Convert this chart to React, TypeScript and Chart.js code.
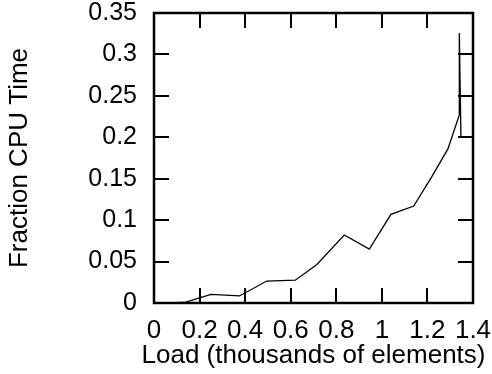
import React, { useEffect, useRef } from "react";
import { Chart, registerables } from "chart.js";

Chart.register(...registerables);

const loadX: number[] = [0.08, 0.14, 0.25, 0.375, 0.495, 0.62, 0.715, 0.835, 0.945, 1.04, 1.14, 1.218, 1.29, 1.34, 1.34, 1.347];
const cpuFraction: number[] = [0, 0.001, 0.0105, 0.0085, 0.0265, 0.0275, 0.0465, 0.082, 0.065, 0.107, 0.117, 0.152, 0.186, 0.227, 0.326, 0.2];
const xTicks: number[] = [0, 0.2, 0.4, 0.6, 0.8, 1, 1.2, 1.4];
const yTicks: number[] = [0, 0.05, 0.1, 0.15, 0.2, 0.25, 0.3, 0.35];
const xTitle = "Load (thousands of elements)";
const yTitle = "Fraction CPU Time";

const FONT = "'Liberation Sans', Arial, sans-serif";

const framePlugin = {
  id: "frameTicks",
  afterDraw(chart: any) {
    const { ctx, chartArea } = chart;
    const { left, right, top, bottom } = chartArea;
    const xs = chart.scales.x;
    const ys = chart.scales.y;
    const len = 15;
    ctx.save();
    ctx.strokeStyle = "#000";
    ctx.lineWidth = 2;
    ctx.beginPath();
    xTicks.forEach((v) => {
      const px = Math.round(xs.getPixelForValue(v));
      if (px <= left + 1 || px >= right - 1) return;
      ctx.moveTo(px, bottom);
      ctx.lineTo(px, bottom - len);
      ctx.moveTo(px, top);
      ctx.lineTo(px, top + len);
    });
    yTicks.forEach((v) => {
      const py = Math.round(ys.getPixelForValue(v));
      if (py <= top + 1 || py >= bottom - 1) return;
      ctx.moveTo(left, py);
      ctx.lineTo(left + len, py);
      ctx.moveTo(right, py);
      ctx.lineTo(right - len, py);
    });
    ctx.stroke();
    ctx.lineWidth = 2.5;
    ctx.strokeRect(left, top, right - left, bottom - top);
    // x-axis title (drawn here so it is not squeezed to the chart width)
    ctx.fillStyle = "#000";
    ctx.font = `26px ${FONT}`;
    ctx.textAlign = "center";
    ctx.textBaseline = "middle";
    ctx.fillText(xTitle, (left + right) / 2, 356);
    ctx.restore();
  },
};

export default function App() {
  const ref = useRef<HTMLCanvasElement>(null);
  useEffect(() => {
    if (!ref.current) return;
    const chart = new Chart(ref.current, {
      type: "line",
      data: {
        datasets: [
          {
            data: loadX.map((x, i) => ({ x, y: cpuFraction[i] })),
            borderColor: "#000",
            borderWidth: 1.3,
            pointRadius: 0,
            fill: false,
            tension: 0,
          },
        ],
      },
      options: {
        animation: false,
        responsive: false,
        maintainAspectRatio: false,
        layout: { padding: { top: 13, right: 19, left: 0, bottom: 0 } },
        plugins: { legend: { display: false }, tooltip: { enabled: false } },
        scales: {
          x: {
            type: "linear",
            min: 0,
            max: 1.4,
            afterBuildTicks: (s: any) => {
              s.ticks = xTicks.map((v) => ({ value: v }));
            },
            afterFit: (s: any) => {
              s.height = 71;
              s.paddingLeft = 0;
              s.paddingRight = 0;
            },
            grid: { display: false, drawTicks: false },
            border: { display: false },
            ticks: {
              color: "#000",
              padding: 12,
              maxRotation: 0,
              autoSkip: false,
              font: { family: FONT, size: 26 },
              callback: (v: any) => String(v),
            },
            title: { display: false, text: xTitle },
          },
          y: {
            type: "linear",
            min: 0,
            max: 0.35,
            afterBuildTicks: (s: any) => {
              s.ticks = yTicks.map((v) => ({ value: v }));
            },
            afterFit: (s: any) => {
              s.width = 154;
              s.paddingTop = 0;
              s.paddingBottom = 0;
            },
            grid: { display: false, drawTicks: false },
            border: { display: false },
            ticks: {
              color: "#000",
              padding: 17,
              autoSkip: false,
              font: { family: FONT, size: 25 },
              callback: (v: any) => String(v),
            },
            title: {
              display: true,
              text: yTitle,
              color: "#000",
              font: { family: FONT, size: 26 },
              padding: { top: 4, bottom: 0 },
            },
          },
        },
      },
      plugins: [framePlugin],
    });
    return () => chart.destroy();
  }, []);
  return (
    <div style={{ position: "fixed", left: 0, top: 0, width: 492, height: 374, background: "#fff" }}>
      <canvas ref={ref} width={492} height={374} style={{ width: 492, height: 374 }} />
    </div>
  );
}
